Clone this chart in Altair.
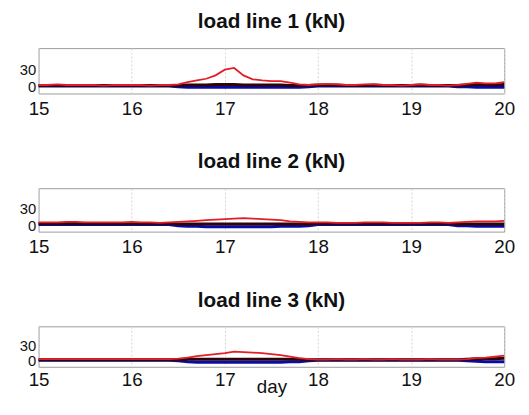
import altair as alt
import pandas as pd

day = [round(15 + i / 10, 1) for i in range(51)]

# Panel 1 (load line 1)
red1 = [3, 3, 4, 3, 3, 3, 3, 2, 3, 3, 3, 3, 2, 3, 3,
        4, 8, 11, 14, 20, 30, 33, 20, 13, 11, 10, 10, 7, 4, 3,
        4, 5, 4, 3, 3, 4, 4, 3, 3, 2, 3, 4, 3, 3, 2, 3, 5, 7, 6, 6, 8]
black1 = [2, 2, 2, 2, 2, 2, 2, 2, 2, 2, 2, 2, 2, 2, 2,
          2, 3, 3, 3, 4, 4, 4, 3, 3, 3, 3, 3, 2, 2, 2,
          3, 3, 3, 2, 2, 2, 3, 2, 2, 2, 2, 3, 2, 2, 2, 2, 3, 4, 4, 3, 4]
blue1 = [1, 1, 1, 1, 1, 1, 1, 1, 1, 1, 1, 1, 1, 1, 1,
         0, -1, -1, -1, -1, -1, -1, -1, -1, -1, -1, -1, -1, -1, 0,
         1, 1, 1, 1, 1, 1, 1, 1, 1, 1, 1, 1, 1, 1, 1, 0, 0, -1, -1, -1, -1]

# Panel 2 (load line 2)
red2 = [5, 5, 5, 6, 6, 5, 5, 5, 5, 5, 6, 5, 5, 4, 5,
        6, 7, 8, 9, 10, 11, 12, 13, 12, 11, 10, 9, 7, 6, 5,
        5, 5, 4, 4, 4, 5, 5, 5, 4, 4, 4, 4, 5, 5, 4, 5, 6, 7, 7, 7, 8]
black2 = [3, 3, 3, 3, 3, 3, 3, 3, 3, 3, 3, 3, 3, 3, 3,
          2, 2, 2, 2, 2, 2, 2, 2, 2, 2, 2, 2, 2, 2, 2,
          3, 3, 3, 3, 3, 3, 3, 3, 3, 3, 3, 3, 3, 3, 3, 2, 2, 2, 2, 2, 2]
blue2 = [1, 1, 1, 1, 1, 1, 1, 1, 1, 1, 1, 1, 1, 1, 1,
         -1, -2, -2, -3, -3, -3, -3, -3, -3, -3, -3, -2, -2, -2, -1,
         1, 1, 1, 1, 1, 1, 1, 1, 1, 1, 1, 1, 1, 1, 1, -1, -1, -2, -2, -2, -2]

# Panel 3 (load line 3)
red3 = [3, 3, 3, 3, 3, 3, 3, 3, 3, 3, 3, 3, 3, 3, 3,
        4, 6, 9, 11, 13, 15, 18, 17, 16, 15, 13, 11, 8, 5, 3,
        2, 2, 3, 2, 2, 3, 2, 2, 3, 2, 2, 2, 3, 2, 2, 2, 3, 5, 6, 8, 10]
black3 = [2, 2, 2, 2, 2, 2, 2, 2, 2, 2, 2, 2, 2, 2, 2,
          2, 3, 3, 3, 3, 3, 3, 3, 3, 3, 3, 3, 3, 3, 2,
          2, 2, 2, 2, 2, 2, 2, 2, 2, 2, 2, 2, 2, 2, 2, 2, 3, 4, 4, 4, 5]
blue3 = [1, 1, 1, 1, 1, 1, 1, 1, 1, 1, 1, 1, 1, 1, 1,
         0, -2, -3, -3, -3, -3, -3, -3, -3, -3, -3, -3, -2, -2, 0,
         1, 1, 1, 1, 1, 1, 1, 1, 1, 1, 1, 1, 1, 1, 1, 1, 0, -1, -2, -2, -2]

titles = ["load line 1 (kN)", "load line 2 (kN)", "load line 3 (kN)"]
panels = [(red1, black1, blue1), (red2, black2, blue2), (red3, black3, blue3)]
heights = [46, 44, 41]
x_ticks = [15, 16, 17, 18, 19, 20]
y_ticks = [0, 30]

FONT = "Liberation Sans"


def panel(i):
    red, black, blue = panels[i]
    rows = []
    for s, vals in (("blue", blue), ("black", black), ("red", red)):
        for d, v in zip(day, vals):
            rows.append({"day": d, "value": v, "series": s})
    df = pd.DataFrame(rows)
    last = i == 2
    x = alt.X(
        "day:Q",
        scale=alt.Scale(domain=[15, 20], nice=False),
        axis=alt.Axis(
            values=x_ticks, title="day" if last else None, labelFlush=False,
            grid=True, gridColor="#d4d4d4", gridDash=[2, 2], ticks=False,
            domain=False, labelPadding=4 if last else 6, titlePadding=-12,
            labelFontSize=19,
        ),
    )
    y = alt.Y(
        "value:Q",
        scale=alt.Scale(domain=[-12, 68], nice=False),
        axis=alt.Axis(
            values=y_ticks, title=None, grid=False, ticks=False, domain=False,
            labelPadding=3, labelFontSize=15,
        ),
    )
    base = alt.Chart(df).encode(x=x, y=y)
    lb = base.transform_filter(alt.datum.series == "blue").mark_line(color="#0a0aa8", strokeWidth=3)
    lk = base.transform_filter(alt.datum.series == "black").mark_line(color="#2c0508", strokeWidth=3)
    lr = base.transform_filter(alt.datum.series == "red").mark_line(color="#e41e26", strokeWidth=1.8)
    return alt.layer(lb, lk, lr).properties(
        width=472, height=heights[i],
        title=alt.TitleParams(titles[i], fontSize=21, fontWeight="bold", font=FONT, offset=16, color="#111"),
    )


chart = alt.vconcat(panel(0), panel(1), panel(2), spacing=32).properties(
    padding={"left": 10, "top": 0, "right": 5, "bottom": 0}
).configure_axis(
    labelFont=FONT, labelColor="#111", titleFont=FONT,
    titleFontSize=19, titleFontWeight="normal", titleColor="#111",
).configure_view(stroke="#9a9a9a", strokeWidth=1)

chart.save("out.html", embed_options={"renderer": "svg", "actions": False})
